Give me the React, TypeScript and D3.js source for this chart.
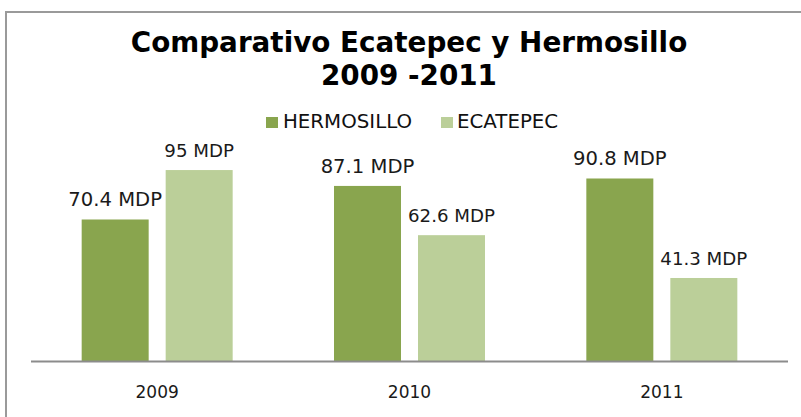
import React from "react";
import * as d3 from "d3";

const categories = ["2009", "2010", "2011"];
const seriesNames = ["HERMOSILLO", "ECATEPEC"];
const hermosillo = [70.4, 87.1, 90.8];
const ecatepec = [95, 62.6, 41.3];
const labelsHermosillo = ["70.4 MDP", "87.1 MDP", "90.8 MDP"];
const labelsEcatepec = ["95 MDP", "62.6 MDP", "41.3 MDP"];

const colors = ["#89a54e", "#bbcf99"];
const font = "'DejaVu Sans', Verdana, sans-serif";

const W = 801;
const H = 417;
const plot = { left: 31, right: 788, top: 160, bottom: 361 };

const App: React.FC = () => {
  const x = d3.scaleBand<string>().domain(categories).range([plot.left, plot.right]).padding(0);
  const groupW = 151;
  const inner = d3
    .scaleBand<string>()
    .domain(seriesNames)
    .range([(x.bandwidth() - groupW) / 2, (x.bandwidth() + groupW) / 2])
    .paddingInner(17 / 84)
    .paddingOuter(0);
  const y = d3.scaleLinear().domain([0, 100]).range([plot.bottom, plot.top]);

  const series = [
    { name: seriesNames[0], values: hermosillo, labels: labelsHermosillo, color: colors[0], size: 19.6 },
    { name: seriesNames[1], values: ecatepec, labels: labelsEcatepec, color: colors[1], size: 18.2 },
  ];

  return (
    <div style={{ position: "absolute", left: 0, top: 0 }}>
      <svg width={W} height={H} style={{ display: "block", background: "#fff" }}>
        {/* chart frame */}
        <path d={`M6,${H + 5} L6,12 L${W + 5},12`} fill="none" stroke="#9a9a9a" strokeWidth={2} />

        <text x={409} y={52} textAnchor="middle" fontFamily={font} fontWeight="bold" fontSize={27.8} fill="#000">
          Comparativo Ecatepec y Hermosillo
        </text>
        <text x={409} y={85} textAnchor="middle" fontFamily={font} fontWeight="bold" fontSize={27.8} fill="#000">
          2009 -2011
        </text>

        {/* legend */}
        {[
          { x: 266, tx: 283 },
          { x: 441, tx: 457 },
        ].map((p, i) => (
          <g key={seriesNames[i]}>
            <rect x={p.x} y={117} width={12} height={11} fill={colors[i]} />
            <text x={p.tx} y={128} fontFamily={font} fontSize={19.8} fill="#111">
              {seriesNames[i]}
            </text>
          </g>
        ))}

        {series.map((s) => (
          <g key={s.name}>
            {categories.map((c, i) => {
              const bx = (x(c) ?? 0) + (inner(s.name) ?? 0);
              const by = y(s.values[i]);
              return (
                <g key={c}>
                  <rect x={bx} y={by} width={inner.bandwidth()} height={plot.bottom - by} fill={s.color} />
                  <text
                    x={bx + inner.bandwidth() / 2}
                    y={by - 13}
                    textAnchor="middle"
                    fontFamily={font}
                    fontSize={s.size}
                    fill="#1a1a1a"
                  >
                    {s.labels[i]}
                  </text>
                </g>
              );
            })}
          </g>
        ))}

        {/* axis */}
        <line x1={plot.left} x2={plot.right} y1={361.5} y2={361.5} stroke="#8c8c8c" strokeWidth={2} />
        {categories.map((c) => (
          <text
            key={c}
            x={(x(c) ?? 0) + x.bandwidth() / 2}
            y={398}
            textAnchor="middle"
            fontFamily={font}
            fontSize={17}
            fill="#1a1a1a"
          >
            {c}
          </text>
        ))}
      </svg>
    </div>
  );
};

export default App;
